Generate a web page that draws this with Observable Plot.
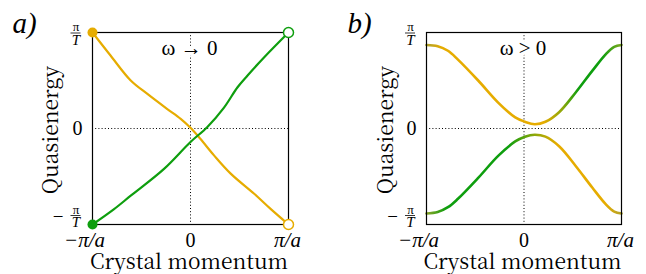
<!DOCTYPE html>
<html><head><meta charset="utf-8">
<script src="https://cdn.jsdelivr.net/npm/d3@7"></script>
<script src="https://cdn.jsdelivr.net/npm/@observablehq/plot@0.6"></script>
<style>
html,body{margin:0;padding:0;background:#fff;}
#wrap{display:flex;width:646px;height:274px;overflow:hidden;}
</style></head><body><div id="wrap"></div>
<script>
// ---------- data (crystal momentum in units of pi/a, quasienergy in units of pi/T) ----------
const panelLabels = ["a)", "b)"];
const annotations = ["ω → 0", "ω > 0"];
const xTickValues = [-1, 0, 1];
const xTickLabels = ["−π/a", "0", "π/a"];
const yFracValues = [1, -1];
const yFracSigns = ["", "−"];
const yZeroValues = [0];
const xAxisTitle = "Crystal momentum";
const yAxisTitle = "Quasienergy";

// panel a: omega -> 0
const kA_yellow = [-1, -0.816, -0.61, -0.44, -0.24, -0.10, 0, 0.10, 0.24, 0.41, 0.65, 0.82, 1];
const eA_yellow = [1, 0.76, 0.5, 0.36, 0.205, 0.10, 0.007, -0.107, -0.28, -0.47, -0.68, -0.84, -1];
const kA_green = [-1, -0.78, -0.61, -0.27, 0, 0.17, 0.34, 0.48, 0.58, 0.75, 1];
const eA_green = [-1, -0.84, -0.70, -0.42, -0.14, 0.014, 0.215, 0.43, 0.55, 0.74, 1];

// panel b: omega > 0
const kB = [-1, -0.885, -0.78, -0.68, -0.47, -0.265, -0.09, 0.01, 0.11, 0.22, 0.36, 0.53, 0.70, 0.84, 0.925, 1];
const eB_upper = [0.87, 0.858, 0.81, 0.72, 0.50, 0.27, 0.115, 0.07, 0.045, 0.07, 0.17, 0.375, 0.60, 0.775, 0.85, 0.87];
const eB_lower = [-0.885, -0.87, -0.82, -0.735, -0.515, -0.285, -0.135, -0.085, -0.065, -0.085, -0.185, -0.39, -0.615, -0.79, -0.865, -0.885];

// ---------- styles ----------
const YEL = "#e6ac00", GRN = "#0e9e0e", OLV = "#b0a22c", MIX = "#8aa70a";
const FONT = "'Noto Serif CJK SC', 'Liberation Serif', serif";
const MATH = "'Liberation Serif', serif";
const W = 323, H = 274;

const pts = (ks, es) => ks.map((k, i) => [k, es[i]]);
const T = (data, o) => Plot.text(data, {fontFamily: FONT, ...o});

function commonMarks(cfg) {
  const plotW = W - cfg.ml - cfg.mr;
  const fd = cfg.fracDx;
  const m = [];
  // y fraction labels
  yFracValues.forEach((v, i) => {
    const s = v > 0 ? 0 : -9.5;
    m.push(T([v], {y: d => d, text: () => "π", frameAnchor: "left", textAnchor: "middle", lineAnchor: "middle", dx: fd, dy: s - 5.5, fontSize: 13, fontFamily: MATH}));
    m.push(Plot.tickY([v], {y: d => d, insetLeft: fd - 5, insetRight: plotW - fd - 5, dy: s + 0.5, stroke: "#000", strokeWidth: 0.8}));
    m.push(T([v], {y: d => d, text: () => "T", frameAnchor: "left", textAnchor: "middle", lineAnchor: "middle", dx: fd, dy: s + 7.5, fontSize: 15, fontStyle: "italic", fontFamily: MATH}));
    if (yFracSigns[i]) m.push(T([v], {y: d => d, text: () => yFracSigns[i], frameAnchor: "left", textAnchor: "middle", lineAnchor: "middle", dx: fd - 18, dy: s + 1.5, fontSize: 19, fontFamily: MATH}));
  });
  m.push(T(yZeroValues, {y: d => d, text: d => String(d), frameAnchor: "left", textAnchor: "end", lineAnchor: "middle", dx: -10, fontSize: 20, fontFamily: MATH}));
  // x tick labels
  const xdx = [-8, 0, -1];
  xTickValues.forEach((v, i) => {
    m.push(T([v], {x: d => d, text: () => xTickLabels[i], frameAnchor: "bottom", lineAnchor: "bottom", textAnchor: "middle", dx: xdx[i], dy: 22, fontSize: v === 0 ? 20 : 21, fontStyle: v === 0 ? "normal" : "italic", fontFamily: MATH}));
  });
  // axis titles
  m.push(T([xAxisTitle], {text: d => d, frameAnchor: "bottom", lineAnchor: "bottom", dx: -1.5, dy: 44, fontSize: 21}));
  m.push(T([yAxisTitle], {text: d => d, frameAnchor: "left", lineAnchor: "bottom", textAnchor: "middle", rotate: -90, dx: cfg.qdx, dy: 1.5, fontSize: 21}));
  // panel label
  m.push(T([cfg.label], {text: d => d, frameAnchor: "top-left", textAnchor: "start", lineAnchor: "bottom", dx: cfg.ldx, dy: 0, fontSize: 29, fontStyle: "italic", fontFamily: MATH}));
  return m;
}

function makePanel(cfg) {
  const marks = [
    Plot.ruleX([0], {stroke: "#000", strokeWidth: 1, strokeDasharray: "1,2.2"}),
    Plot.ruleY([0], {stroke: "#000", strokeWidth: 1, strokeDasharray: "1,2.2"}),
    T([cfg.note], {text: d => d, frameAnchor: "top", lineAnchor: "bottom", dy: 22, dx: -1, fontSize: 21, fontFamily: MATH, fill: "#000", stroke: "#fff", strokeWidth: 7}),
    ...cfg.lines,
    Plot.frame({stroke: "#000", strokeWidth: 1.2}),
    ...(cfg.dots || []),
    ...commonMarks(cfg)
  ];
  return Plot.plot({
    width: W, height: H,
    marginLeft: cfg.ml, marginRight: cfg.mr, marginTop: 32, marginBottom: 50,
    x: {domain: [-1, 1], axis: null},
    y: {domain: [-1, 1], axis: null},
    style: {fontFamily: FONT, fontSize: "18px", color: "#000", background: "#fff", overflow: "visible"},
    marks
  });
}

// ---------- panel a ----------
const yA = pts(kA_yellow, eA_yellow), gA = pts(kA_green, eA_green);
const panelA = makePanel({
  ml: 92, mr: 35, fracDx: -16.5, qdx: -35, ldx: -80,
  label: panelLabels[0], note: annotations[0],
  lines: [
    Plot.line(yA, {stroke: YEL, strokeWidth: 2.2, curve: "catmull-rom"}),
    Plot.line(gA, {stroke: GRN, strokeWidth: 2.2, curve: "catmull-rom"})
  ],
  dots: [
    Plot.dot([yA[0]], {r: 5, fill: YEL, stroke: "none"}),
    Plot.dot([gA[0]], {r: 5, fill: GRN, stroke: "none"}),
    Plot.dot([yA[yA.length - 1]], {r: 5, fill: "#fff", stroke: YEL, strokeWidth: 1.5}),
    Plot.dot([gA[gA.length - 1]], {r: 5, fill: "#fff", stroke: GRN, strokeWidth: 1.5})
  ]
});

// ---------- panel b ----------
const panelB = makePanel({
  ml: 103, mr: 25, fracDx: -16, qdx: -34, ldx: -79,
  label: panelLabels[1], note: annotations[1],
  lines: [
    Plot.line(pts(kB, eB_upper), {stroke: "url(#gradUpper)", strokeWidth: 2.6, curve: "catmull-rom"}),
    Plot.line(pts(kB, eB_lower), {stroke: "url(#gradLower)", strokeWidth: 2.6, curve: "catmull-rom"})
  ]
});

// gradients placed with the panel's own x scale
(function addGradients(svg) {
  const xs = svg.scale("x");
  const x1 = xs.apply(-1), x2 = xs.apply(1);
  const defs = d3.select(svg).insert("defs", ":first-child");
  const grads = {
    gradUpper: [[0, OLV], [0.08, YEL], [0.6, YEL], [0.7, MIX], [0.78, GRN], [0.9, GRN], [1, "#7fa820"]],
    gradLower: [[0, "#8da42a"], [0.1, GRN], [0.42, GRN], [0.55, MIX], [0.67, YEL], [0.92, YEL], [1, OLV]]
  };
  for (const [id, stops] of Object.entries(grads)) {
    const g = defs.append("linearGradient").attr("id", id).attr("gradientUnits", "userSpaceOnUse")
      .attr("x1", x1).attr("x2", x2).attr("y1", 0).attr("y2", 0);
    stops.forEach(([o, c]) => g.append("stop").attr("offset", o).attr("stop-color", c));
  }
})(panelB);

document.getElementById("wrap").append(panelA, panelB);
</script></body></html>
